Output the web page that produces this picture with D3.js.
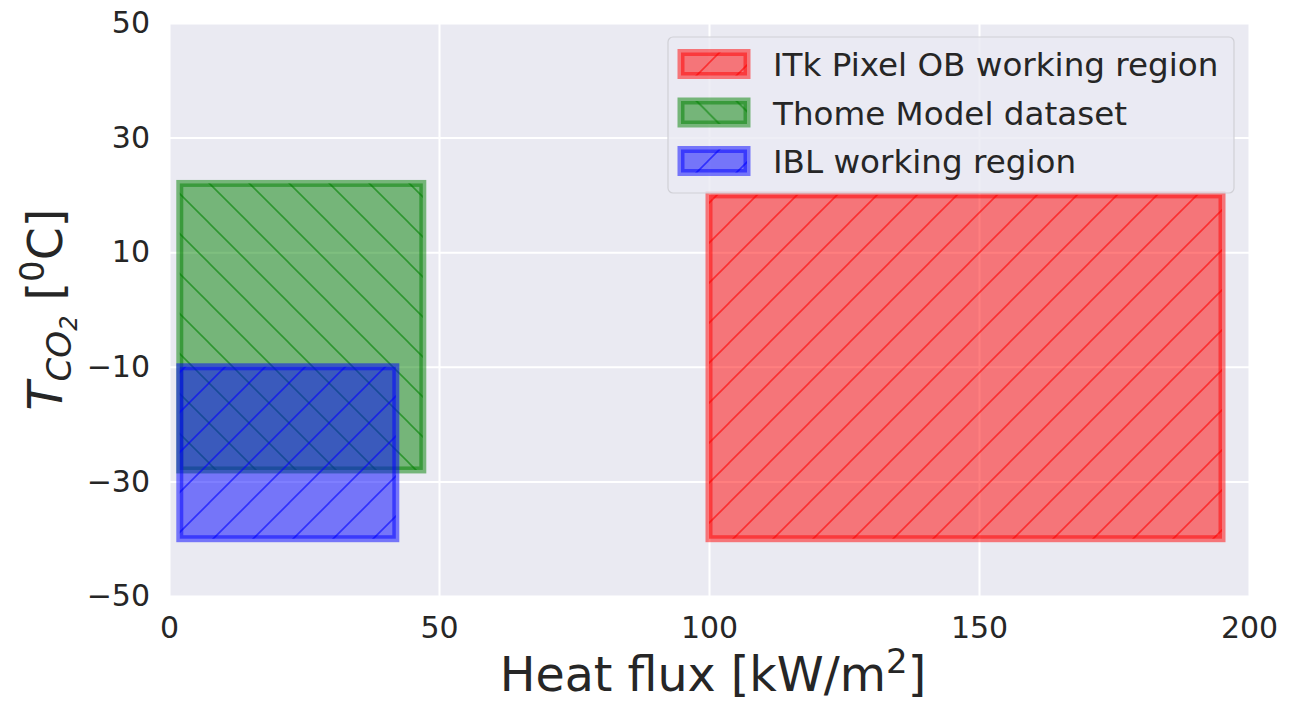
<!DOCTYPE html>
<html lang="en">
<head>
  <meta charset="UTF-8">
  <title>Heat flux vs CO2 temperature regions</title>
  <script src="https://d3js.org/d3.v7.min.js"></script>
  <style>
    body {
      margin: 0;
      background: #ffffff;
      font-family: "DejaVu Sans", sans-serif;
    }

    .tick text {
      fill: #262626;
      font-size: 30px;
      font-family: "DejaVu Sans", sans-serif;
    }

    .grid line {
      stroke: #ffffff;
      stroke-width: 2;
    }

    .legend-label {
      fill: #262626;
      font-size: 32.6px;
    }

    .axis-label {
      fill: #262626;
      font-size: 47.5px;
    }
  </style>
</head>
<body>

<svg width="1306" height="703"></svg>

<script>
  // region data
  const regionNames = ["ITk Pixel OB working region", "Thome Model dataset", "IBL working region"];
  const fluxMin = [100, 2, 2];
  const fluxMax = [195, 47, 42];
  const tempMin = [-40, -28, -40];
  const tempMax = [20, 22, -10];
  const regionColors = ["#ff0000", "#008000", "#0000ff"];
  const regionHatch = ["/", "\\", "/"];

  const xTicks = [0, 50, 100, 150, 200];
  const yTicks = [-50, -30, -10, 10, 30, 50];

  const width = 1306;
  const height = 703;
  const margin = { top: 23, right: 57, bottom: 107, left: 169 };
  const innerW = width - margin.left - margin.right;
  const innerH = height - margin.top - margin.bottom;

  const svg = d3.select("svg");
  const defs = svg.append("defs");

  const x = d3.scaleLinear().domain([0, 200]).range([0, innerW]);
  const y = d3.scaleLinear().domain([-50, 50]).range([innerH, 0]);

  const g = svg.append("g").attr("transform", `translate(${margin.left},${margin.top})`);

  // plot background
  g.append("rect")
    .attr("width", innerW)
    .attr("height", innerH)
    .attr("fill", "#eaeaf2");

  // grid
  g.append("g")
    .attr("class", "grid")
    .attr("transform", `translate(0,${innerH})`)
    .call(d3.axisBottom(x).tickValues(xTicks).tickSize(-innerH).tickFormat(""))
    .call(a => a.select(".domain").remove());

  g.append("g")
    .attr("class", "grid")
    .call(d3.axisLeft(y).tickValues(yTicks).tickSize(-innerW).tickFormat(""))
    .call(a => a.select(".domain").remove());

  // hatch patterns, one per region
  regionNames.forEach((name, i) => {
    const p = defs.append("pattern")
      .attr("id", "hatch" + i)
      .attr("patternUnits", "userSpaceOnUse")
      .attr("width", 40)
      .attr("height", 40);
    const segs = regionHatch[i] === "/"
      ? [[0, 40, 40, 0], [-10, 10, 10, -10], [30, 50, 50, 30]]
      : [[0, 0, 40, 40], [-10, 30, 10, 50], [30, -10, 50, 10]];
    segs.forEach(s => {
      p.append("line")
        .attr("x1", s[0]).attr("y1", s[1])
        .attr("x2", s[2]).attr("y2", s[3])
        .attr("stroke", regionColors[i])
        .attr("stroke-opacity", 0.6)
        .attr("stroke-width", 1.6);
    });
  });

  const idx = d3.range(regionNames.length);

  const boxes = g.selectAll(".region")
    .data(idx)
    .join("g")
    .attr("class", "region");

  boxes.append("rect")
    .attr("x", i => x(fluxMin[i]))
    .attr("y", i => y(tempMax[i]))
    .attr("width", i => x(fluxMax[i]) - x(fluxMin[i]))
    .attr("height", i => y(tempMin[i]) - y(tempMax[i]))
    .attr("fill", i => regionColors[i])
    .attr("fill-opacity", 0.5);

  boxes.append("rect")
    .attr("x", i => x(fluxMin[i]))
    .attr("y", i => y(tempMax[i]))
    .attr("width", i => x(fluxMax[i]) - x(fluxMin[i]))
    .attr("height", i => y(tempMin[i]) - y(tempMax[i]))
    .attr("fill", i => `url(#hatch${i})`)
    .attr("stroke", i => regionColors[i])
    .attr("stroke-opacity", 0.5)
    .attr("stroke-width", 7);

  // axes
  g.append("g")
    .attr("transform", `translate(0,${innerH})`)
    .call(d3.axisBottom(x).tickValues(xTicks).tickSize(0).tickPadding(21))
    .call(a => a.select(".domain").remove());

  g.append("g")
    .call(d3.axisLeft(y).tickValues(yTicks).tickSize(0).tickPadding(19)
      .tickFormat(d => d < 0 ? "\u2212" + Math.abs(d) : d))
    .call(a => a.select(".domain").remove());

  // axis titles
  const xl = svg.append("text")
    .attr("class", "axis-label")
    .attr("x", margin.left + innerW / 2 + 4)
    .attr("y", 691)
    .attr("text-anchor", "middle");
  xl.append("tspan").text("Heat flux [kW/m");
  xl.append("tspan").attr("dy", -18).attr("font-size", "34px").text("2");
  xl.append("tspan").attr("dy", 18).text("]");

  const yl = svg.append("text")
    .attr("class", "axis-label")
    .attr("transform", `translate(62,${margin.top + innerH / 2}) rotate(-90)`)
    .attr("text-anchor", "middle");
  yl.append("tspan").attr("font-style", "italic").text("T");
  yl.append("tspan").attr("font-style", "italic").attr("font-size", "34px").attr("dy", 9).text("CO");
  yl.append("tspan").attr("font-style", "italic").attr("font-size", "24px").attr("dy", 6).text("2");
  yl.append("tspan").attr("dy", -15).text(" [");
  yl.append("tspan").attr("font-size", "34px").attr("dy", -18).text("0");
  yl.append("tspan").attr("dy", 18).text("C]");

  // legend
  const legend = svg.append("g").attr("transform", "translate(668,37)");
  legend.append("rect")
    .attr("width", 566)
    .attr("height", 156)
    .attr("rx", 5)
    .attr("fill", "#eaeaf2")
    .attr("fill-opacity", 0.8)
    .attr("stroke", "#d0d0d6")
    .attr("stroke-width", 1.2);

  const rows = legend.selectAll(".entry")
    .data(idx)
    .join("g")
    .attr("class", "entry")
    .attr("transform", i => `translate(0,${27 + i * 48.5})`);

  rows.append("rect")
    .attr("x", 13).attr("y", -11.5).attr("width", 66).attr("height", 23)
    .attr("fill", i => regionColors[i])
    .attr("fill-opacity", 0.5);

  rows.append("rect")
    .attr("x", 13).attr("y", -11.5).attr("width", 66).attr("height", 23)
    .attr("fill", i => `url(#hatch${i})`)
    .attr("stroke", i => regionColors[i])
    .attr("stroke-opacity", 0.5)
    .attr("stroke-width", 7);

  rows.append("text")
    .attr("class", "legend-label")
    .attr("x", 105)
    .attr("y", 12)
    .text(i => regionNames[i]);
</script>

</body>
</html>
